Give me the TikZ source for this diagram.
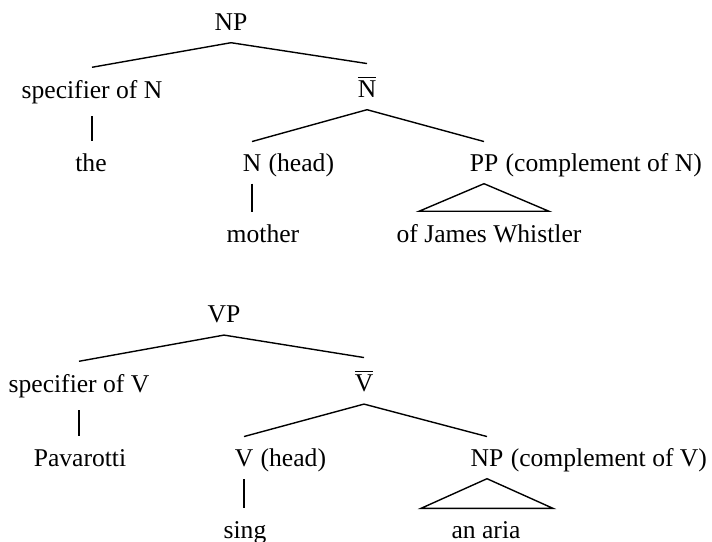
\documentclass[tikz,border=0pt]{standalone}
\usepackage{fontspec}
\setmainfont{Liberation Serif}
\begin{document}
\begin{tikzpicture}[x=0.5pt, y=-0.5pt, line width=0.7pt,
  lbl/.style={anchor=base, inner xsep=0pt, inner ysep=6pt, font=\fontsize{12.8}{15}\selectfont},
  note/.style={anchor=base west, inner sep=0pt, xshift=3pt, font=\fontsize{12.8}{15}\selectfont}]
\useasboundingbox (0,0) rectangle (712,541);
% upper tree
\node[lbl] (np0) at (231,30) {NP};
\node[lbl] (spec0) at (92,98) {specifier of N};
\draw (np0.south) -- (spec0.north);
\node[lbl] (the) at (91,171) {the};
\draw (spec0.south) -- (spec0.south |- the.north);
\node[lbl] (nbar) at (367,97) {$\overline{\hbox{N}}$};
\draw (np0.south) -- (nbar.north);
\node[lbl] (nh) at (252,171) {N};
\node[note] (nhnote) at (nh.base east) {(head)};
\draw (nbar.south) -- (nh.north);
\node[lbl] (mother) at (263,242) {mother};
\draw (nh.south) -- (nh.south |- mother.north);
\node[lbl] (pp) at (484,171) {PP};
\node[note] (ppnote) at (pp.base east) {(complement of N)};
\draw (nbar.south) -- (pp.north);
\node[lbl] (ojw) at (489,242) {of James Whistler};
\draw (pp.south) -- ([xshift=-32.5pt]pp.south |- ojw.north) -- ([xshift=32.5pt]pp.south |- ojw.north) -- cycle;
% lower tree
\node[lbl] (vp) at (224,322) {VP};
\node[lbl] (spec1) at (79,392) {specifier of V};
\draw (vp.south) -- (spec1.north);
\node[lbl] (pav) at (80,466) {Pavarotti};
\draw (spec1.south) -- (spec1.south |- pav.north);
\node[lbl] (vbar) at (364,391) {$\overline{\hbox{V}}$};
\draw (vp.south) -- (vbar.north);
\node[lbl] (vh) at (244,466) {V};
\node[note] (vhnote) at (vh.base east) {(head)};
\draw (vbar.south) -- (vh.north);
\node[lbl] (sing) at (245,538) {sing};
\draw (vh.south) -- (vh.south |- sing.north);
\node[lbl] (np1) at (487,466) {NP};
\node[note] (np1note) at (np1.base east) {(complement of V)};
\draw (vbar.south) -- (np1.north);
\node[lbl] (aria) at (486,538) {an aria};
\draw (np1.south) -- ([xshift=-33pt]np1.south |- aria.north) -- ([xshift=33pt]np1.south |- aria.north) -- cycle;
\end{tikzpicture}
\end{document}
